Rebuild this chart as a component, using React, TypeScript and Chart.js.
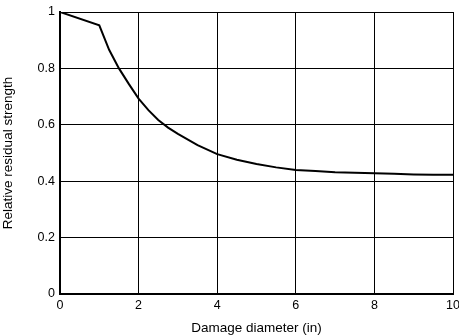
import React, { useEffect, useRef } from "react";
import { Chart, registerables } from "chart.js";

Chart.register(...registerables);

const diameters = [0, 1, 1.25, 1.5, 1.75, 2, 2.25, 2.5, 2.75, 3, 3.5, 4, 4.5, 5, 5.5, 6, 6.5, 7, 7.5, 8, 8.5, 9, 9.5, 10];
const strength = [1, 0.953, 0.866, 0.8, 0.745, 0.693, 0.652, 0.617, 0.59, 0.568, 0.528, 0.496, 0.476, 0.461, 0.449, 0.44, 0.436, 0.432, 0.43, 0.428, 0.426, 0.424, 0.423, 0.423];
const xTickLabels = ["0", "2", "4", "6", "8", "10"];
const yTickLabels = ["0", "0.2", "0.4", "0.6", "0.8", "1"];
const xTitle = "Damage diameter (in)";
const yTitle = "Relative residual strength";

export default function App() {
  const ref = useRef<HTMLCanvasElement>(null);
  useEffect(() => {
    if (!ref.current) return;
    const family = "Arial, 'Liberation Sans', sans-serif";
    const tickFont = { family, size: 12.5 };
    const titleFont = { family, size: 13.5 };
    const chart = new Chart(ref.current, {
      type: "line",
      data: {
        datasets: [
          {
            data: diameters.map((d, i) => ({ x: d, y: strength[i] })),
            borderColor: "#000",
            borderWidth: 2,
            pointRadius: 0,
            tension: 0,
            fill: false,
          },
        ],
      },
      options: {
        animation: false,
        responsive: false,
        maintainAspectRatio: false,
        layout: { padding: { top: 12, right: 6, left: 0, bottom: 0 } },
        plugins: { legend: { display: false }, tooltip: { enabled: false } },
        scales: {
          x: {
            type: "linear",
            min: 0,
            max: 10,
            ticks: {
              stepSize: 2,
              color: "#000",
              font: tickFont,
              padding: 4,
              maxRotation: 0,
              callback: (v: any) => xTickLabels[Math.round(Number(v) / 2)] ?? "",
            },
            grid: { color: "#000", lineWidth: 1, drawTicks: false },
            border: { color: "#000", width: 2 },
            title: { display: true, text: xTitle, color: "#000", font: titleFont, padding: { top: 1, bottom: 0 } },
            afterFit: (s: any) => { s.height = 42; s.paddingLeft = 0; s.paddingRight = 0; },
          },
          y: {
            min: 0,
            max: 1,
            ticks: {
              stepSize: 0.2,
              color: "#000",
              font: tickFont,
              padding: 5,
              callback: (v: any) => yTickLabels[Math.round(Number(v) * 5)] ?? "",
            },
            grid: { color: "#000", lineWidth: 1, drawTicks: false },
            border: { color: "#000", width: 2 },
            title: { display: true, text: yTitle, color: "#000", font: titleFont, padding: { top: 0, bottom: 6 } },
            afterFit: (s: any) => { s.width = 60; s.paddingTop = 0; s.paddingBottom = 0; },
          },
        },
      },
    });
    return () => chart.destroy();
  }, []);
  return (
    <div style={{ position: "fixed", left: 0, top: 0, width: 459, height: 336, background: "#fff" }}>
      <canvas ref={ref} width={459} height={336} style={{ width: 459, height: 336 }} />
    </div>
  );
}
